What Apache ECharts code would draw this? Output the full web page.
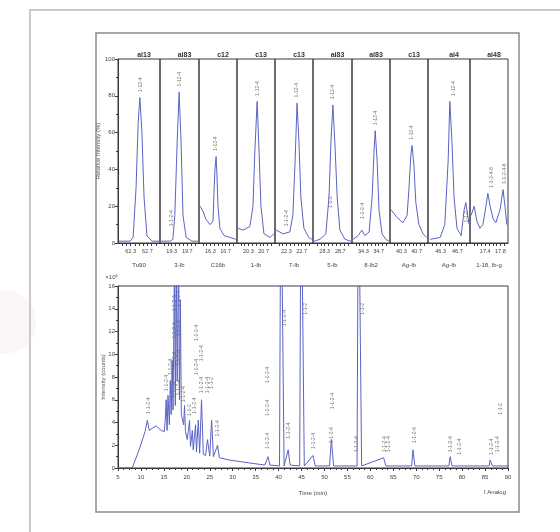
<!DOCTYPE html>
<html><head><meta charset="utf-8">
<script src="https://cdn.jsdelivr.net/npm/echarts@6/dist/echarts.min.js"></script>
<style>html,body{margin:0;padding:0;background:#fff}#c{width:560px;height:532px}</style>
</head><body><div id="c"></div>
<script>
// ---------- DATA ----------
const panelTitles = ['ai13', 'ai83', 'c12', 'c13', 'c13', 'ai83', 'ai83', 'c13', 'ai4', 'ai48'];
const panelNames  = ['Tu90', '3-Ib', 'C16b', '1-Ib', '7-Ib', '5-Ib', '8-Ib2', 'Ag-Ib', 'Ag-Ib', '1-18, Ib-g'];
const panelStarts = [62, 19, 16, 20, 22, 28, 34, 40, 46, 17];
const panelTickLabels = [
  [62.3, 62.7], [19.3, 19.7], [16.3, 16.7], [20.3, 20.7], [22.3, 22.7],
  [28.3, 28.7], [34.3, 34.7], [40.3, 40.7], [46.3, 46.7], [17.4, 17.8]
];
// each panel: [time, relative intensity %]
const panel1  = [[62.02,1],[62.29,1],[62.36,3],[62.43,30],[62.48,65],[62.52,79],[62.57,60],[62.62,25],[62.69,4],[62.81,1],[62.98,1]];
const panel2  = [[19.03,1],[19.26,1],[19.33,2],[19.38,15],[19.44,55],[19.49,82],[19.54,55],[19.59,15],[19.67,3],[19.82,1],[19.97,1]];
const panel3  = [[16.03,20],[16.11,17],[16.18,13],[16.29,10],[16.37,12],[16.39,25],[16.42,40],[16.45,47],[16.47,38],[16.50,20],[16.55,8],[16.66,4],[16.82,3],[16.97,2]];
const panel4  = [[20.03,8],[20.16,7],[20.34,9],[20.42,20],[20.47,50],[20.53,77],[20.58,50],[20.63,20],[20.71,5],[20.87,3],[20.97,5]];
const panel5  = [[22.03,7],[22.21,5],[22.39,6],[22.47,15],[22.53,45],[22.58,76],[22.63,55],[22.68,25],[22.76,8],[22.89,3],[22.97,2]];
const panel6  = [[28.03,1],[28.18,2],[28.33,5],[28.41,25],[28.46,55],[28.51,75],[28.56,55],[28.62,25],[28.69,7],[28.82,2],[28.97,1]];
const panel7  = [[34.03,2],[34.16,4],[34.26,7],[34.34,4],[34.45,6],[34.53,25],[34.58,50],[34.61,61],[34.66,45],[34.71,18],[34.79,5],[34.89,2],[34.97,1]];
const panel8  = [[40.03,18],[40.18,14],[40.34,11],[40.45,15],[40.50,30],[40.55,48],[40.58,53],[40.63,42],[40.68,22],[40.76,10],[40.87,5],[40.97,3]];
const panel9  = [[46.05,2],[46.29,3],[46.40,10],[46.48,45],[46.52,77],[46.57,55],[46.62,25],[46.69,8],[46.79,4],[46.86,18],[46.90,22],[46.98,10]];
const panel10 = [[17.03,15],[17.11,20],[17.18,12],[17.26,8],[17.34,10],[17.42,20],[17.47,27],[17.53,20],[17.61,13],[17.68,11],[17.79,18],[17.87,29],[17.92,20],[17.97,10]];
const panelData = [panel1, panel2, panel3, panel4, panel5, panel6, panel7, panel8, panel9, panel10];
// peak annotations in the upper panels: [time, intensity, text]
const panelPeakLabels = [
  [[62.53, 81, '1-12-4']],
  [[19.50, 84, '1-12-4'], [19.30, 8, '1-1-2-4']],
  [[16.45, 49, '1-12-4']],
  [[20.53, 79, '1-12-4']],
  [[22.58, 78, '1-12-4'], [22.31, 8, '1-1-2-4']],
  [[28.51, 77, '1-12-4'], [28.45, 18, '1-1-2']],
  [[34.63, 63, '1-12-4'], [34.28, 12, '1-1-2-4']],
  [[40.58, 55, '1-12-4']],
  [[46.60, 79, '1-12-4'], [46.92, 10, '1-1-2']],
  [[17.58, 29, '1-1-2-4-6'], [17.90, 31, '1-1-2-4-6']]
];

// lower chromatogram
const chromTime = [5.0,8.1,9.6,10.9,11.4,11.8,12.5,13.3,14.4,15.1,15.3,15.5,15.7,15.9,16.2,16.4,16.6,16.8,17.0,17.3,17.5,17.7,17.9,18.2,18.4,18.6,18.8,19.3,19.5,19.7,20.1,20.6,20.8,21.2,21.4,21.9,22.1,22.5,22.8,23.2,23.6,24.1,24.5,25.0,25.4,25.8,26.7,27.1,29.3,33.7,37.0,37.7,38.1,40.2,40.5,40.9,41.2,42.1,42.5,44.6,44.9,45.3,45.6,47.5,48.0,51.1,51.5,52.0,57.1,57.4,57.8,58.1,62.9,63.4,69.0,69.3,69.7,77.1,77.4,77.8,85.9,86.1,86.6,90.1];
const chromSignal = [0,0,1.6,3.2,4.2,3.3,3.5,3.7,3.3,3.2,4.2,6.0,3.3,6.4,3.8,7.7,4.7,9.5,5.1,18,5.5,19,7.7,19,6.0,14.8,4.7,3.8,5.5,3.2,2.5,4.2,1.9,3.3,1.6,3.8,1.4,4.2,1.3,6.0,1.2,1.1,2.5,1.05,4.2,1.0,2.0,0.9,0.7,0.44,0.26,1.0,0.26,0.18,28,28,0.18,1.6,0.26,0.18,28,28,0.18,1.1,0.18,0.18,2.5,0.18,0.18,28,28,0.18,0.9,0.18,0.18,1.6,0.18,0.18,1.0,0.18,0.18,0.7,0.18,0.18];
// peak annotations in the lower panel: [time, signal, text]
const chromPeakLabels = [
  [11.6, 4.6, '1-1-2-4'],
  [15.6, 6.6, '1-1-2-4'], [16.5, 8.0, '1-1-2-4'],
  [17.4, 6.0, '1-1-2-4'], [17.4, 8.6, '1-1-2-4'], [17.4, 11.2, '1-1-2-4'], [17.4, 13.6, '1-1-2-4'],
  [18.2, 6.2, '1-1-2-4'], [18.2, 8.8, '1-1-2-4'], [18.2, 11.4, '1-1-2-4'], [18.2, 14.0, '1-1-2-4'],
  [19.3, 5.6, '1-1-2-4'],
  [20.6, 4.4, '1-1-2'], [21.6, 4.6, '1-1-2-4'], [22.2, 8.0, '1-1-2-4'], [22.2, 11.0, '1-1-2-4'],
  [23.2, 6.4, '1-1-2-4'], [23.3, 9.2, '1-1-2-4'],
  [24.6, 6.4, '1-1-2-4'], [25.5, 6.8, '1-1-2'],
  [26.8, 2.6, '1-1-2-4'],
  [37.6, 1.5, '1-1-2-4'], [37.6, 4.4, '1-1-2-4'], [37.6, 7.3, '1-1-2-4'],
  [41.3, 12.3, '1-1-2-4'],
  [42.2, 2.4, '1-1-2-4'],
  [45.8, 13.3, '1-1-2'],
  [47.6, 1.5, '1-1-2-4'],
  [51.6, 2.0, '1-1-2-4'], [51.8, 5.0, '1-1-2-4'],
  [57.0, 1.2, '1-1-2-4'], [58.4, 13.3, '1-1-2'],
  [63.2, 1.2, '1-1-2-4'], [63.9, 1.2, '1-1-2-4'],
  [69.6, 2.0, '1-1-2-4'],
  [77.4, 1.2, '1-1-2-4'], [79.4, 1.0, '1-1-2-4'],
  [86.4, 1.0, '1-1-2-4'], [87.7, 1.2, '1-1-2-4'], [88.4, 4.5, '1-1-2']
];
const bottomXRange = [5, 90];
const bottomYRange = [0, 16];

// ---------- LAYOUT / STYLE ----------
const FONT = 'Liberation Sans, DejaVu Sans, sans-serif';
const AX = '#3a3a3a';
const LINE = '#5b63c4';
const panelLeft  = [118, 160, 199, 237, 275, 313, 352, 390, 428, 470];
const panelRight = [160, 199, 237, 275, 313, 352, 390, 428, 470, 508];
const TOP_Y = 59, TOP_H = 184;
const BOT_Y = 286, BOT_H = 182;

const grid = [], xAxis = [], yAxis = [], series = [], title = [];
panelData.forEach((d, i) => {
  const s = panelStarts[i];
  grid.push({left: panelLeft[i], top: TOP_Y, width: panelRight[i] - panelLeft[i], height: TOP_H,
             show: true, borderColor: AX, borderWidth: 1, containLabel: false});
  const ticks = [];
  for (let k = 1; k < 10; k++) ticks.push(s + k / 10);
  xAxis.push({type: 'value', gridIndex: i, min: s, max: s + 1,
    axisLine: {show: true, lineStyle: {color: AX}},
    axisTick: {show: true, customValues: ticks, length: 3, lineStyle: {color: AX}},
    splitLine: {show: false},
    axisLabel: {customValues: panelTickLabels[i], formatter: v => v.toFixed(1), fontSize: 5.5, color: '#444', margin: 5, fontFamily: FONT},
    name: panelNames[i], nameLocation: 'middle', nameGap: 19,
    nameTextStyle: {fontSize: 6, color: '#444', fontFamily: FONT}});
  if (i === 0) {
    yAxis.push({type: 'value', gridIndex: i, min: 0, max: 100, interval: 20,
      axisLine: {show: true, lineStyle: {color: AX}},
      axisTick: {show: true, length: 3, lineStyle: {color: AX}},
      minorTick: {show: true, splitNumber: 2, length: 2, lineStyle: {color: AX}},
      splitLine: {show: false},
      axisLabel: {fontSize: 6, color: '#444', margin: 3, fontFamily: FONT},
      name: 'Relative Intensity (%)', nameLocation: 'middle', nameGap: 12, nameRotate: 90,
      nameTextStyle: {fontSize: 6, color: '#555', fontFamily: FONT}});
  } else {
    yAxis.push({type: 'value', gridIndex: i, min: 0, max: 100, show: false});
  }
  title.push({text: panelTitles[i], left: (panelLeft[i] + panelRight[i]) / 2, top: 47, textAlign: 'center',
    textStyle: {fontSize: 7, fontWeight: 'bold', color: '#333', fontFamily: FONT}});
  series.push({type: 'line', xAxisIndex: i, yAxisIndex: i, data: d, symbol: 'none',
    lineStyle: {color: LINE, width: 1}, animation: false});
  series.push({type: 'scatter', xAxisIndex: i, yAxisIndex: i, symbolSize: 0, animation: false,
    data: panelPeakLabels[i].map(p => ({value: [p[0], p[1]], name: p[2]})),
    label: {show: true, formatter: '{b}', position: 'top', distance: 2, rotate: 90, align: 'left', verticalAlign: 'middle',
            fontSize: 5, color: '#555', fontFamily: FONT}});
});

// lower panel
const B = 10;
grid.push({left: 118, top: BOT_Y, width: 390, height: BOT_H, show: true, borderColor: AX, borderWidth: 1});
xAxis.push({type: 'value', gridIndex: B, min: bottomXRange[0], max: bottomXRange[1], interval: 5,
  axisLine: {show: true, lineStyle: {color: AX}},
  axisTick: {show: true, length: 3, lineStyle: {color: AX}},
  minorTick: {show: true, splitNumber: 4, length: 2, lineStyle: {color: AX}},
  splitLine: {show: false},
  axisLabel: {fontSize: 6, color: '#444', margin: 6, fontFamily: FONT},
  name: 'Time (min)', nameLocation: 'middle', nameGap: 22,
  nameTextStyle: {fontSize: 6, color: '#444', fontFamily: FONT}});
yAxis.push({type: 'value', gridIndex: B, position: 'left', min: bottomYRange[0], max: bottomYRange[1], interval: 2,
  axisLine: {show: true, lineStyle: {color: AX}},
  axisTick: {show: true, length: 3, lineStyle: {color: AX}},
  minorTick: {show: true, splitNumber: 2, length: 2, lineStyle: {color: AX}},
  splitLine: {show: false},
  axisLabel: {fontSize: 6, color: '#444', margin: 3, fontFamily: FONT},
  name: '×10⁵', nameLocation: 'end', nameGap: 6,
  nameTextStyle: {fontSize: 6, color: '#444', fontFamily: FONT, align: 'right'}});
yAxis.push({type: 'value', gridIndex: B, position: 'left', offset: 0, min: bottomYRange[0], max: bottomYRange[1],
  axisLine: {show: false}, axisTick: {show: false}, axisLabel: {show: false}, splitLine: {show: false},
  name: 'Intensity (counts)', nameLocation: 'middle', nameGap: 12, nameRotate: 90,
  nameTextStyle: {fontSize: 6, color: '#555', fontFamily: FONT}});
series.push({type: 'line', xAxisIndex: B, yAxisIndex: B, symbol: 'none', clip: true, animation: false,
  data: chromTime.map((t, k) => [t, chromSignal[k]]),
  lineStyle: {color: LINE, width: 1}});
series.push({type: 'scatter', xAxisIndex: B, yAxisIndex: B, symbolSize: 0, animation: false,
  data: chromPeakLabels.map(p => ({value: [p[0], p[1]], name: p[2]})),
  label: {show: true, formatter: '{b}', position: 'top', distance: 2, rotate: 90, align: 'left', verticalAlign: 'middle',
          fontSize: 5, color: '#555', fontFamily: FONT}});

const chart = echarts.init(document.getElementById('c'), null, {renderer: 'canvas'});
chart.setOption({
  backgroundColor: '#fff',
  animation: false,
  title, grid, xAxis, yAxis, series,
  graphic: [
    {type: 'circle', shape: {cx: 4, cy: 322, r: 32}, style: {fill: 'rgba(205,130,130,0.08)'}, z: -1},
    {type: 'polyline', shape: {points: [[30, 540], [30, 10], [570, 10]]}, style: {stroke: '#c9c9c9', lineWidth: 2, fill: null}},
    {type: 'rect', shape: {x: 96, y: 33, width: 423, height: 479}, style: {stroke: '#8c8c8c', lineWidth: 1.5, fill: null}},
    {type: 'text', x: 506, y: 489, style: {text: 'I Analog', fontSize: 6, fill: '#444', align: 'right', fontFamily: FONT}}
  ]
});
</script>
</body></html>
